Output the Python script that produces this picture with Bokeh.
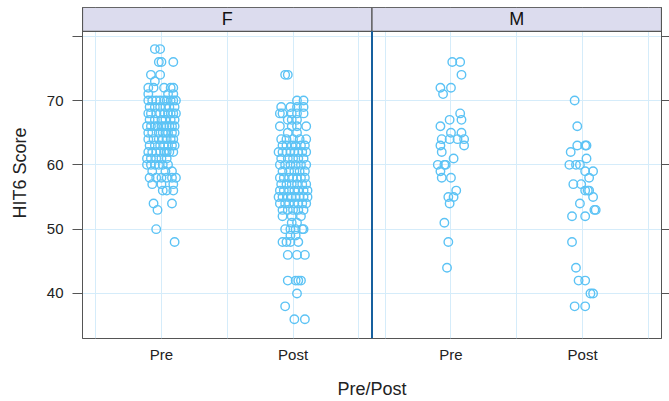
from bokeh.plotting import figure
from bokeh.models import Range1d, FixedTicker, LinearAxis, Grid, ColumnDataSource
from bokeh.core.properties import value
from bokeh.embed import file_html
from bokeh.resources import INLINE

# ---------------- data ----------------
panels = ["F", "M"]
times = ["Pre", "Post"]
y_ticks = [40, 50, 60, 70, 80]

# jitter offsets are in hundredths of a category step
f_pre_scores = ([78]*2 + [76]*3 + [74]*2 + [73] + [72]*5 + [71]*3 + [70]*9 + [69]*6 + [68]*9 +
                [67]*6 + [66]*10 + [65]*8 + [64]*7 + [63]*7 + [62]*8 + [61]*5 + [60]*6 + [59]*3 +
                [58]*6 + [57]*3 + [56]*3 + [54]*2 + [53] + [50] + [48])
f_pre_jitter = [-5, -1,  -2, 0, 9,  -8, -1,  -5,  -10, -6, 2, 7, 9,  -10, 5, 9,
                -10, -7, -4, -1, 2, 4, 7, 9, 11,  -9, -5, -1, 3, 6, 10,
                -10, -8, -4, -1, 2, 5, 7, 9, 11,  -9, -5, 0, 3, 7, 10,
                -11, -8, -5, -3, 0, 2, 4, 6, 8, 10,  -10, -7, -2, 1, 3, 5, 8, 10,
                -10, -6, -2, 1, 4, 7, 9,  -9, -5, -1, 2, 5, 8, 10,
                -10, -7, -4, -1, 2, 4, 6, 9,  -11, -8, -4, 0, 4,  -11, -8, -5, -2, 1, 5,
                -7, 3, 8,  -9, -4, 0, 4, 8, 11,  -7, 0, 9,  1, 4, 9,  -6, 8,  -3,  -4,  10]

f_post_scores = ([74]*2 + [70]*2 + [69]*4 + [68]*5 + [67]*3 + [66]*4 + [65]*2 + [64]*5 + [63]*6 +
                 [62]*8 + [61]*5 + [60]*6 + [59]*5 + [58]*7 + [57]*6 + [56]*7 + [55]*8 + [54]*7 +
                 [53]*5 + [52]*3 + [51]*2 + [50]*5 + [49]*2 + [48]*4 + [46]*3 + [42]*4 + [40] +
                 [38] + [36]*2)
f_post_jitter = [-6, -4,  3, 8,  -9, -2, 3, 8,  -10, -8, -1, 3, 8,  -4, -1, 3,  -10, -1, 3, 10,
                 -4, 3,  -9, -5, 0, 5, 10,  -8, -5, -1, 2, 6, 9,
                 -11, -8, -5, -2, 1, 4, 7, 10,  -9, -4, 0, 4, 8,  -10, -6, -2, 2, 6, 10,
                 -8, -3, 1, 5, 9,  -10, -7, -3, 0, 3, 6, 9,  -9, -5, -1, 3, 7, 10,
                 -10, -7, -3, 1, 4, 8, 11,  -11, -8, -4, -1, 2, 5, 8, 11,
                 -10, -6, -3, 1, 4, 7, 10,  -8, -4, 0, 4, 8,  -8, -1, 6,  -1, 3,
                 -6, -2, 2, 7, 8,  -2, 2,  -8, -5, -2, 4,  -4, 3, 9,  -4, 2, 4, 6,  3,  -6,  1, 9]

m_pre_scores = ([76]*2 + [74] + [72]*2 + [71] + [68] + [67]*2 + [66] + [65]*2 + [64]*4 + [63]*2 +
                [62] + [61] + [60]*3 + [59] + [58]*2 + [56] + [55]*2 + [54] + [51] + [48] + [44])
m_pre_jitter = [1, 7,  8,  -8, 0,  -6,  7,  -1, 8,  -8,  0, 8,  -7, -1, 5, 10,  -8, 10,
                -7,  2,  -10, -5, -4,  -8,  -7, 0,  4,  -2, 2,  -1,  -5,  -2,  -3]

m_post_scores = ([70] + [66] + [63]*3 + [62] + [61] + [60]*3 + [59]*2 + [58] + [57]*2 + [56]*3 +
                 [55] + [54] + [53]*2 + [52]*2 + [48] + [44] + [42]*2 + [40]*2 + [38]*2)
m_post_jitter = [-6,  -4,  -4, 2, 3,  -9,  3,  -10, -5, -2,  2, 8,  5,  -7, -1,  2, 4, 5,
                 8,  -2,  9, 10,  -8, 2,  -8,  -5,  -3, 2,  6, 8,  -6, 2]

# ---------------- layout constants ----------------
STEP = 2.2            # width of one panel in category units
X0, X1 = 0.4, 0.4 + STEP * len(panels)
Y0, YP, Y1 = 33.0, 80.76, 84.47   # bottom, panel top, strip top

PT_COLOR = "#5cc3f5"
GRID_COLOR = "#d5ecfa"
FRAME_COLOR = "#555555"
FONT = "Liberation Sans"

p = figure(width=669, height=401, output_backend="svg", toolbar_location=None,
           x_range=Range1d(X0, X1), y_range=Range1d(Y0, Y1),
           min_border_left=82, min_border_right=8, min_border_top=7, min_border_bottom=61,
           x_axis_type=None, y_axis_type=None)
p.outline_line_color = FRAME_COLOR
p.outline_line_width = 1
p.background_fill_color = "white"
p.border_fill_color = "white"

# category positions per panel
positions = []
for pi, _ in enumerate(panels):
    for ti, _ in enumerate(times):
        positions.append(ti + 1 + pi * STEP)

# grid lines
grid_x = []
for pi, _ in enumerate(panels):
    for k in range(5):
        grid_x.append(0.5 + 0.5 * k + pi * STEP)
p.add_layout(Grid(dimension=0, ticker=FixedTicker(ticks=grid_x),
                  grid_line_color=GRID_COLOR, grid_line_width=1))
p.add_layout(Grid(dimension=1, ticker=FixedTicker(ticks=y_ticks),
                  grid_line_color=GRID_COLOR, grid_line_width=1))

# axes
xaxis = LinearAxis(ticker=FixedTicker(ticks=positions),
                   major_label_overrides={pos: times[i % 2] for i, pos in enumerate(positions)},
                   axis_label="Pre/Post", axis_line_color=None,
                   major_tick_out=0, major_tick_in=0, minor_tick_out=0, minor_tick_in=0,
                   major_label_standoff=7, axis_label_standoff=13,
                   major_label_text_font=FONT, major_label_text_font_size="15px",
                   major_label_text_color="#222222",
                   axis_label_text_font=FONT, axis_label_text_font_size="18px",
                   axis_label_text_font_style="normal", axis_label_text_color="#222222")
p.add_layout(xaxis, "below")

yaxis = LinearAxis(ticker=FixedTicker(ticks=y_ticks),
                   major_label_overrides={80: ""},
                   axis_label="HIT6 Score", axis_line_color=FRAME_COLOR,
                   major_tick_out=10, major_tick_in=0, minor_tick_out=0, minor_tick_in=0,
                   major_tick_line_color=FRAME_COLOR,
                   major_label_standoff=9, axis_label_standoff=14,
                   major_label_text_font=FONT, major_label_text_font_size="15px",
                   major_label_text_color="#222222",
                   axis_label_text_font=FONT, axis_label_text_font_size="18px",
                   axis_label_text_font_style="normal", axis_label_text_color="#222222")
p.add_layout(yaxis, "left")

raxis = LinearAxis(ticker=FixedTicker(ticks=y_ticks),
                   major_label_overrides={t: "" for t in y_ticks},
                   axis_line_color=FRAME_COLOR,
                   major_tick_out=8, major_tick_in=0, minor_tick_out=0, minor_tick_in=0,
                   major_tick_line_color=FRAME_COLOR,
                   major_label_standoff=0, major_label_text_font_size="1px")
p.add_layout(raxis, "right")

# strips
p.quad(left=[X0 + pi * STEP for pi in range(len(panels))],
       right=[X0 + (pi + 1) * STEP for pi in range(len(panels))],
       bottom=YP, top=Y1, fill_color="#dcdcee", line_color=FRAME_COLOR, line_width=1.2)
p.text(x=[X0 + (pi + 0.5) * STEP for pi in range(len(panels))], y=(YP + Y1) / 2, text=panels,
       text_align="center", text_baseline="middle", text_font=value(FONT),
       text_font_size="18px", text_color="#111111")

# panel divider
p.segment(x0=X0 + STEP, y0=Y0, x1=X0 + STEP, y1=YP, line_color="#17609e", line_width=2)

# points
groups = [(0, 0, f_pre_scores, f_pre_jitter), (0, 1, f_post_scores, f_post_jitter),
          (1, 0, m_pre_scores, m_pre_jitter), (1, 1, m_post_scores, m_post_jitter)]
xs, ys = [], []
for pi, ti, sc, jt in groups:
    base = ti + 1 + pi * STEP
    for s, j in zip(sc, jt):
        xs.append(base + j / 100.0)
        ys.append(s)
src = ColumnDataSource(data=dict(x=xs, y=ys))
p.scatter("x", "y", source=src, marker="circle", size=8.5, fill_color=None,
          line_color=PT_COLOR, line_width=1.4)

open("out.html", "w").write(file_html(p, INLINE))
